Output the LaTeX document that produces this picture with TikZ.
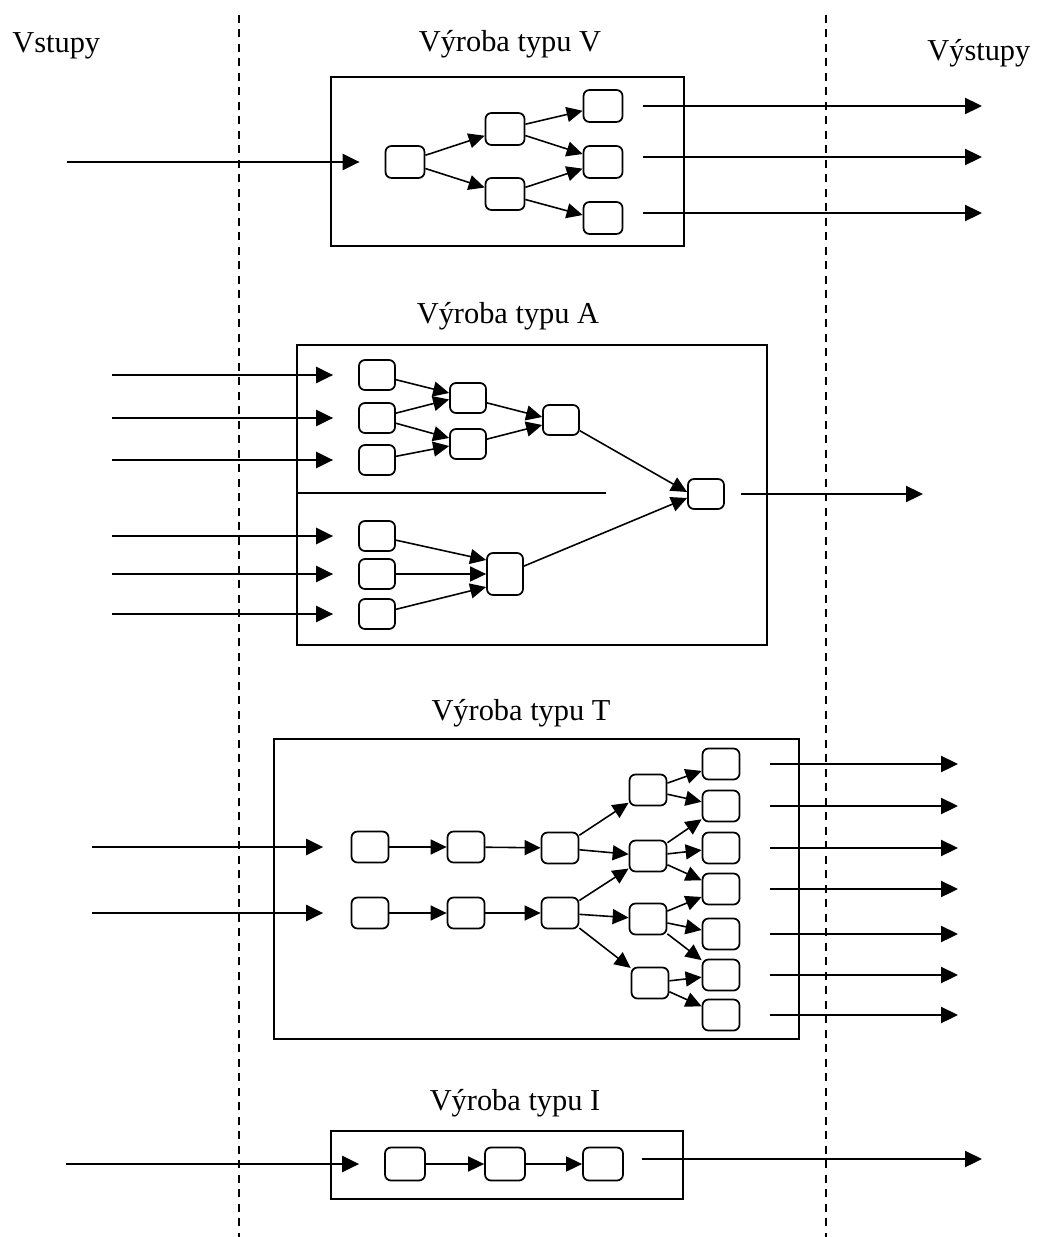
\documentclass[tikz,border=0pt]{standalone}
\usepackage{fontspec}
\setmainfont{Liberation Serif}
\usetikzlibrary{arrows.meta}

\tikzset{
  uzel/.style={draw, rounded corners=1.2mm, line width=1pt, inner sep=0pt,
    minimum width=0.74cm, minimum height=0.62cm},
  hrana/.style={-{Triangle[length=0.32cm,width=0.3cm]}, line width=0.9pt},
  tok/.style={-{Triangle[length=0.34cm,width=0.32cm]}, line width=1.3pt},
  blok/.style={line width=0.9pt},
  hranice/.style={dash pattern=on 0.16cm off 0.13cm, line width=0.8pt},
  popis/.style={font=\fontsize{17.3}{20}\selectfont, inner sep=0pt, anchor=base}
}

\begin{document}
\begin{tikzpicture}[x=0.02cm, y=-0.02cm]
  \useasboundingbox (0,0) rectangle (1039,1237);

  % Hranice vstupů a výstupů
  \draw[hranice] (239,15) -- (239,1237);
  \draw[hranice] (826,15) -- (826,1237);
  \node[popis, anchor=base west] (vstupy) at (12,53) {Vstupy};
  \node[popis, anchor=base west] (vystupy) at (927,61) {Výstupy};

  % Volné konce toků
  \coordinate (vin) at (67,0);
  \coordinate (vout) at (982,0);
  \coordinate (ain) at (112,0);
  \coordinate (aout) at (923,0);
  \coordinate (tin) at (92,0);
  \coordinate (tout) at (958,0);
  \coordinate (iin) at (66,0);
  \coordinate (iout) at (982,0);

  % Výroba typu V
  \node[popis] (titV) at (510,52) {Výroba typu V};
  \draw[blok] (331,77) rectangle (684,246);
  \foreach \n/\x/\y in {v1/405/162, v2/505/129, v3/505/194,
                        v4/603/106, v5/603/162, v6/603/218}
    \node[uzel, minimum width=0.78cm, minimum height=0.64cm] (\n) at (\x,\y) {};
  \foreach \a/\b in {v1/v2, v1/v3, v2/v4, v3/v5}
    \draw[hrana] (\a) -- (\b);
  \draw[hrana] (v2) -- ([yshift=0.16cm]v5.west);
  \draw[hrana] (v3) -- ([yshift=0.06cm]v6.west);
  \draw[tok] (v1 -| vin) -- ([xshift=-0.5cm]v1.west);
  \foreach \n/\s in {v4/0, v5/0.1, v6/0.1} {
    \path ([xshift=0.39cm, yshift=\s cm]\n.east) coordinate (\n o);
    \draw[tok] (\n o) -- (\n o -| vout);
  }

  % Výroba typu A
  \node[popis] (titA) at (508,323) {Výroba typu A};
  \draw[blok] (297,345) rectangle (767,645);
  \draw[line width=1.3pt] (297,493) -- (606,493);
  \foreach \n/\x/\y in {a1/377/375, a2/377/418, a3/377/460, b1/468/398,
                        b2/468/444, c/561/420, d/706/494,
                        e1/377/536, e2/377/574, e3/377/614}
    \node[uzel, minimum width=0.72cm, minimum height=0.6cm] (\n) at (\x,\y) {};
  \node[uzel, minimum width=0.72cm, minimum height=0.84cm] (f) at (505,574) {};
  \draw[hrana] (a1) -- ([yshift=0.1cm]b1.west);
  \draw[hrana] (a2) -- ([yshift=-0.03cm]b1.west);
  \draw[hrana] (a2) -- ([yshift=0.12cm]b2.west);
  \draw[hrana] (a3) -- ([yshift=-0.04cm]b2.west);
  \draw[hrana] (b1) -- ([yshift=0.06cm]c.west);
  \draw[hrana] (b2) -- ([yshift=-0.1cm]c.west);
  \draw[hrana] (c) -- ([yshift=0.04cm]d.west);
  \draw[hrana] (e1) -- ([yshift=0.28cm]f.west);
  \draw[hrana] (e2) -- (f.west);
  \draw[hrana] (e3) -- ([yshift=-0.26cm]f.west);
  \draw[hrana] (f) -- ([yshift=-0.08cm]d.west);
  \foreach \n in {a1,a2,a3,e1,e2,e3}
    \draw[tok] (\n -| ain) -- ([xshift=-0.5cm]\n.west);
  \draw[tok] ([xshift=0.32cm]d.east) -- (d -| aout);

  % Výroba typu T
  \node[popis] (titT) at (521,720) {Výroba typu T};
  \draw[blok] (274,739) rectangle (799,1039);
  \foreach \n/\x/\y in {t1/370/847, t2/466/847, t3/560/848,
                        s1/370/913, s2/466/913, s3/560/913,
                        m1/648/790, m2/648/856, m3/648/919, m4/650/983,
                        o1/721/764, o2/721/806, o3/721/848, o4/721/889,
                        o5/721/934, o6/721/975, o7/721/1015}
    \node[uzel] (\n) at (\x,\y) {};
  \foreach \a/\b in {t1/t2, t2/t3, s1/s2, s2/s3, t3/m1, t3/m2,
                     s3/m2, s3/m3, s3/m4, m1/o1, m1/o2, m2/o2, m2/o3,
                     m2/o4, m3/o4, m3/o5, m3/o6, m4/o6, m4/o7}
    \draw[hrana] (\a) -- (\b);
  \foreach \n in {t1,s1}
    \draw[tok] (\n -| tin) -- ([xshift=-0.55cm]\n.west);
  \foreach \n in {o1,o2,o3,o4,o5,o6,o7}
    \draw[tok] ([xshift=0.59cm]\n.east) -- (\n -| tout);

  % Výroba typu I
  \node[popis] (titI) at (515,1110) {Výroba typu I};
  \draw[blok] (331,1131) rectangle (683,1199);
  \foreach \n/\x in {i1/405, i2/505, i3/603}
    \node[uzel, minimum width=0.8cm, minimum height=0.66cm] (\n) at (\x,1164) {};
  \foreach \a/\b in {i1/i2, i2/i3}
    \draw[hrana] (\a) -- (\b);
  \draw[tok] (i1 -| iin) -- ([xshift=-0.5cm]i1.west);
  \path ([xshift=0.36cm, yshift=0.1cm]i3.east) coordinate (i3o);
  \draw[tok] (i3o) -- (i3o -| iout);
\end{tikzpicture}
\end{document}
